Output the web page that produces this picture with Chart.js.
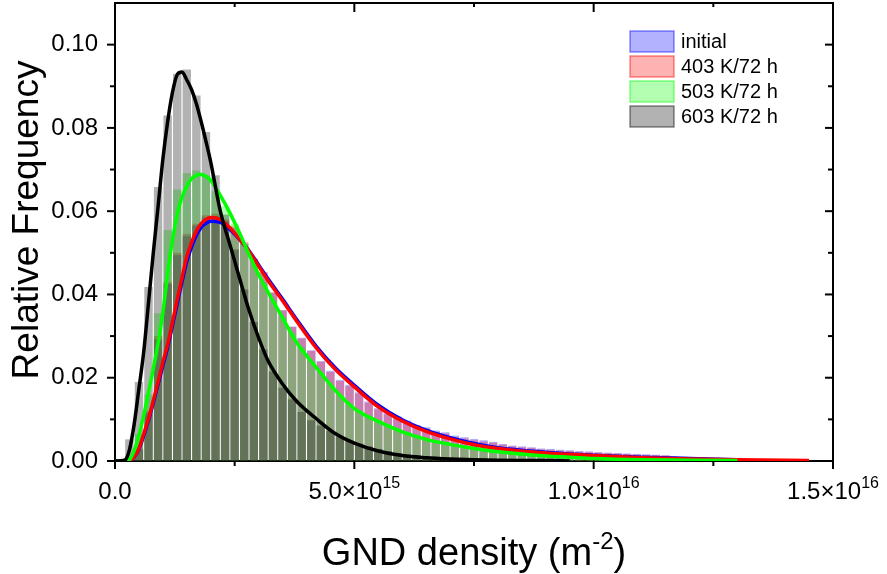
<!DOCTYPE html>
<html>
<head>
<meta charset="utf-8">
<script src="https://cdn.jsdelivr.net/npm/chart.js@4.4.1/dist/chart.umd.min.js"></script>
<style>
  html, body { margin: 0; padding: 0; background: #fff; }
  #wrap { width: 887px; height: 574px; }
</style>
</head>
<body>
<div id="wrap"><canvas id="gnd-chart"></canvas></div>
<script>
// Series names (legend order)
const seriesNames = ['initial', '403 K/72 h', '503 K/72 h', '603 K/72 h'];

// Histogram bin centres, in units of 1e15 m^-2 (bin width 2e14)
const binCenters = [
  0.1, 0.3, 0.5, 0.7, 0.9, 1.1, 1.3, 1.5, 1.7, 1.9,
  2.1, 2.3, 2.5, 2.7, 2.9, 3.1, 3.3, 3.5, 3.7, 3.9,
  4.1, 4.3, 4.5, 4.7, 4.9, 5.1, 5.3, 5.5, 5.7, 5.9,
  6.1, 6.3, 6.5, 6.7, 6.9, 7.1, 7.3, 7.5, 7.7, 7.9,
  8.1, 8.3, 8.5, 8.7, 8.9, 9.1, 9.3, 9.5, 9.7, 9.9,
  10.1, 10.3, 10.5, 10.7, 10.9, 11.1, 11.3, 11.5, 11.7, 11.9,
  12.1, 12.3, 12.5, 12.7, 12.9, 13.1, 13.3, 13.5, 13.7, 13.9,
  14.1, 14.3, 14.5, 14.7, 14.9,
];

// Relative frequency per bin
const initialHist = [
  0, 0.0003, 0.0028, 0.0115, 0.0292, 0.0425, 0.0495, 0.054, 0.0565, 0.0585,
  0.0588, 0.0575, 0.056, 0.0522, 0.0484, 0.0452, 0.0404, 0.0362, 0.0323, 0.0296,
  0.0266, 0.024, 0.0217, 0.0195, 0.0183, 0.0165, 0.0143, 0.0127, 0.0115, 0.0107,
  0.0097, 0.0086, 0.0081, 0.0073, 0.0069, 0.0061, 0.0057, 0.0053, 0.005, 0.0046,
  0.0041, 0.0037, 0.0035, 0.0033, 0.003, 0.0029, 0.0027, 0.0026, 0.0024, 0.0023,
  0.0021, 0.002, 0.0019, 0.0018, 0.0017, 0.0016, 0.0015, 0.0014, 0.0011, 0.001,
  0.0009, 0.0008, 0.0007, 0.0006, 0.0005, 0.0004, 0.0003, 0.0003, 0.0002, 0.0002,
  0.0001, 0.0001, 0, 0, 0,
];
const hist403 = [
  0, 0.0003, 0.003, 0.012, 0.03, 0.043, 0.05, 0.0546, 0.057, 0.059,
  0.0594, 0.058, 0.0565, 0.0526, 0.0486, 0.0454, 0.0405, 0.0362, 0.0322, 0.0294,
  0.0264, 0.0238, 0.0214, 0.0192, 0.018, 0.0162, 0.014, 0.0124, 0.0112, 0.0104,
  0.0094, 0.0083, 0.0078, 0.007, 0.0066, 0.0058, 0.0054, 0.005, 0.0047, 0.0044,
  0.0039, 0.0035, 0.0033, 0.0031, 0.0028, 0.0027, 0.0025, 0.0024, 0.0022, 0.0021,
  0.002, 0.0019, 0.0018, 0.0017, 0.0016, 0.0015, 0.0014, 0.0013, 0.001, 0.0009,
  0.0008, 0.0007, 0.0006, 0.0005, 0.0004, 0.0003, 0.0003, 0.0002, 0.0002, 0.0001,
  0.0001, 0.0001, 0, 0, 0,
];
const hist503 = [
  0, 0.0008, 0.0065, 0.016, 0.0355, 0.0555, 0.0652, 0.0692, 0.0698, 0.0686,
  0.0648, 0.0612, 0.057, 0.0522, 0.0474, 0.0428, 0.0386, 0.0346, 0.0307, 0.0272,
  0.024, 0.021, 0.0182, 0.0158, 0.0137, 0.0122, 0.0109, 0.0097, 0.0087, 0.0078,
  0.007, 0.0063, 0.0056, 0.005, 0.0045, 0.004, 0.0036, 0.0032, 0.0028, 0.0025,
  0.0022, 0.002, 0.0018, 0.0016, 0.0014, 0.0013, 0.0012, 0.0011, 0.001, 0.0009,
  0.0008, 0.0007, 0.0006, 0.0006, 0.0005, 0.0004, 0.0004, 0.0003, 0.0003, 0.0002,
  0.0002, 0.0002, 0.0001, 0.0001, 0.0001, 0, 0, 0, 0, 0,
  0, 0, 0, 0, 0,
];
const hist603 = [
  0, 0.0052, 0.019, 0.0418, 0.0658, 0.083, 0.093, 0.094, 0.0878, 0.079,
  0.0686, 0.0592, 0.0508, 0.0412, 0.0334, 0.0268, 0.0215, 0.0176, 0.0148, 0.0118,
  0.0098, 0.0085, 0.0072, 0.0058, 0.0049, 0.0042, 0.0035, 0.0029, 0.0024, 0.0019,
  0.0016, 0.0013, 0.0011, 0.0009, 0.0007, 0.0006, 0.0005, 0.0004, 0.0003, 0.0003,
  0.0002, 0.0002, 0.0002, 0.0001, 0.0001, 0.0001, 0, 0, 0, 0,
  0, 0, 0, 0, 0, 0, 0, 0, 0, 0,
  0, 0, 0, 0, 0, 0, 0, 0, 0, 0,
  0, 0, 0, 0, 0,
];

// Fitted distribution curves, sampled at fitX (units of 1e15 m^-2)
const fitX = [
  0, 0.2, 0.3, 0.4, 0.5, 0.6, 0.7, 0.8, 0.9, 1.0,
  1.1, 1.2, 1.3, 1.4, 1.5, 1.6, 1.7, 1.8, 1.9, 2.0,
  2.2, 2.4, 2.6, 2.8, 3.0, 3.2,
  3.5, 3.8, 4.2, 4.6, 5.0,
  5.5, 6.0, 6.5, 7.0, 7.5, 8.0,
  9.0, 9.5, 10, 11, 12, 13, 14.5,
];
const initialFit = [
  0, 0, 0, 0.0009, 0.0028, 0.0061, 0.0098, 0.014, 0.0184, 0.0229,
  0.0273, 0.0325, 0.0378, 0.043, 0.0479, 0.0514, 0.0542, 0.0561, 0.0571, 0.0576,
  0.0573, 0.0556, 0.0532, 0.0505, 0.0471, 0.0437,
  0.0389, 0.0339, 0.0276, 0.0224, 0.0182,
  0.0134, 0.0099, 0.0074, 0.0056, 0.0042, 0.0032,
  0.0021, 0.0017, 0.0014, 0.0009, 0.0006, 0.0003, null,
];
const fit403 = [
  0, 0, 0, 0.001, 0.003, 0.0065, 0.0102, 0.0145, 0.019, 0.0237,
  0.028, 0.0333, 0.0388, 0.044, 0.049, 0.0525, 0.0552, 0.057, 0.058, 0.0585,
  0.058, 0.056, 0.0533, 0.0504, 0.0468, 0.0433,
  0.0385, 0.0335, 0.0272, 0.022, 0.0178,
  0.013, 0.0096, 0.0071, 0.0053, 0.0039, 0.003,
  0.0019, 0.0016, 0.0013, 0.0008, 0.0005, 0.0003, 0.0001,
];
const fit503 = [
  0, 0, 0.0003, 0.0025, 0.0062, 0.011, 0.0165, 0.0222, 0.0283, 0.0356,
  0.045, 0.053, 0.0593, 0.0634, 0.066, 0.0678, 0.0686, 0.0688, 0.0684, 0.0674,
  0.0638, 0.0596, 0.0548, 0.0496, 0.0448, 0.0405,
  0.0344, 0.0284, 0.0225, 0.017, 0.0126,
  0.0095, 0.007, 0.0052, 0.004, 0.003, 0.0022,
  0.0012, 0.0009, 0.0006, 0.0003, 0.0002, 0.0001, null,
];
const fit603 = [
  0, 0.0002, 0.0026, 0.0088, 0.0174, 0.0262, 0.038, 0.05, 0.0611, 0.0725,
  0.0815, 0.0885, 0.0928, 0.0934, 0.0915, 0.0892, 0.0858, 0.0815, 0.0768, 0.0718,
  0.06, 0.052, 0.044, 0.0362, 0.0296, 0.024,
  0.0185, 0.0143, 0.0102, 0.0066, 0.0043,
  0.0024, 0.0013, 0.0008, 0.0005, 0.0003, 0.0002,
  0.0001, 0, null, null, null, null, null,
];

// Axis ticks
const xMajorTicks = [0, 5, 10, 15];
const xMinorTicks = [2.5, 7.5, 12.5];
const yMajorTicks = [0, 0.02, 0.04, 0.06, 0.08, 0.1];
const yMinorTicks = [0.01, 0.03, 0.05, 0.07, 0.09];

const FONT = 'Arial, "Liberation Sans", Helvetica, sans-serif';
const barColors = ['rgba(0, 0, 255, 0.3)', 'rgba(255, 0, 0, 0.3)', 'rgba(0, 255, 0, 0.3)', 'rgba(0, 0, 0, 0.3)'];
const swatchBorders = ['rgba(0, 0, 255, 0.45)', 'rgba(255, 0, 0, 0.45)', 'rgba(0, 255, 0, 0.45)', 'rgba(0, 0, 0, 0.45)'];
const lineColors = ['#0000ff', '#ff0000', '#00ff00', '#000000'];

function toPoints(xs, ys) {
  return xs.map((x, i) => ({ x: x, y: ys[i] }));
}

const hists = [initialHist, hist403, hist503, hist603];
const fits = [initialFit, fit403, fit503, fit603];

const datasets = [];
// bars: initial drawn first, 603 K last (higher order = drawn earlier)
hists.forEach((h, i) => {
  datasets.push({
    type: 'bar',
    label: seriesNames[i],
    data: toPoints(binCenters, h),
    backgroundColor: barColors[i],
    borderWidth: 0,
    grouped: false,
    barPercentage: 0.88,
    categoryPercentage: 1,
    order: 13 - i,
  });
});
// fit lines on top, black topmost
fits.forEach((f, i) => {
  datasets.push({
    type: 'line',
    label: seriesNames[i] + ' fit',
    data: toPoints(fitX, f),
    borderColor: lineColors[i],
    borderWidth: 3.5,
    pointRadius: 0,
    fill: false,
    spanGaps: false,
    cubicInterpolationMode: 'monotone',
    order: 4 - i,
  });
});

// x tick text: mantissa ×10 with superscript exponent
function xTickParts(v) {
  if (v === 0) return { base: '0.0', sup: '' };
  const real = v * 1e15;
  const exp = Math.floor(Math.log10(real));
  const mant = real / Math.pow(10, exp);
  return { base: mant.toFixed(1) + '\u00d710', sup: String(exp) };
}

function drawWithSup(ctx, parts, cx, baseY, baseSize, supSize, supRaise) {
  ctx.font = baseSize + 'px ' + FONT;
  const wb = ctx.measureText(parts.base).width;
  const wa = parts.after ? ctx.measureText(parts.after).width : 0;
  ctx.font = supSize + 'px ' + FONT;
  const ws = parts.sup ? ctx.measureText(parts.sup).width : 0;
  let x = cx - (wb + ws + wa) / 2;
  ctx.textAlign = 'left';
  ctx.textBaseline = 'alphabetic';
  ctx.font = baseSize + 'px ' + FONT;
  ctx.fillText(parts.base, x, baseY);
  x += wb;
  if (parts.sup) {
    ctx.font = supSize + 'px ' + FONT;
    ctx.fillText(parts.sup, x, baseY - supRaise);
    x += ws;
  }
  if (parts.after) {
    ctx.font = baseSize + 'px ' + FONT;
    ctx.fillText(parts.after, x, baseY);
  }
}

const framePlugin = {
  id: 'frame',
  beforeDatasetsDraw(chart) {
    const ctx = chart.ctx;
    const a = chart.chartArea;
    const xs = chart.scales.x;
    const ys = chart.scales.y;
    ctx.save();
    ctx.strokeStyle = '#000';
    ctx.lineWidth = 2;
    ctx.strokeRect(a.left, a.top, a.right - a.left, a.bottom - a.top);
    const seg = (x1, y1, x2, y2) => {
      ctx.beginPath();
      ctx.moveTo(x1, y1);
      ctx.lineTo(x2, y2);
      ctx.stroke();
    };
    xMajorTicks.forEach((v) => {
      const p = xs.getPixelForValue(v);
      seg(p, a.bottom, p, a.bottom + 8);
      seg(p, a.top, p, a.top + 9);
    });
    xMinorTicks.forEach((v) => {
      const p = xs.getPixelForValue(v);
      seg(p, a.bottom, p, a.bottom + 5);
      seg(p, a.top, p, a.top + 4);
    });
    yMajorTicks.forEach((v) => {
      const p = ys.getPixelForValue(v);
      seg(a.left - 8, p, a.left, p);
      seg(a.right - 8, p, a.right, p);
    });
    yMinorTicks.forEach((v) => {
      const p = ys.getPixelForValue(v);
      seg(a.left - 5, p, a.left, p);
      seg(a.right - 5, p, a.right, p);
    });
    ctx.restore();
  },
  afterDraw(chart) {
    const ctx = chart.ctx;
    const a = chart.chartArea;
    const xs = chart.scales.x;
    ctx.save();
    ctx.fillStyle = '#000';

    // x tick labels
    xMajorTicks.forEach((v) => {
      drawWithSup(ctx, xTickParts(v), xs.getPixelForValue(v), 499, 24, 16, 11);
    });

    // x title
    drawWithSup(ctx, { base: 'GND density (m', sup: '-2', after: ')' },
      (a.left + a.right) / 2, 565, 38, 24, 16);

    // y title
    ctx.save();
    ctx.translate(38, 220);
    ctx.rotate(-Math.PI / 2);
    ctx.font = '37px ' + FONT;
    ctx.textAlign = 'center';
    ctx.textBaseline = 'alphabetic';
    ctx.fillText('Relative Frequency', 0, 0);
    ctx.restore();

    // legend
    const lx = 630, ly = 31, rowH = 25, bw = 44, bh = 21;
    seriesNames.forEach((name, i) => {
      const y = ly + i * rowH;
      ctx.fillStyle = '#fff';
      ctx.fillRect(lx, y, bw, bh);
      ctx.fillStyle = barColors[i];
      ctx.fillRect(lx, y, bw, bh);
      ctx.strokeStyle = swatchBorders[i];
      ctx.lineWidth = 1.5;
      ctx.strokeRect(lx, y, bw, bh);
      ctx.fillStyle = '#000';
      ctx.font = '20px ' + FONT;
      ctx.textAlign = 'left';
      ctx.textBaseline = 'middle';
      ctx.fillText(name, lx + 51, y + bh / 2 + 1);
    });
    ctx.restore();
  },
};

const gndCanvas = document.getElementById('gnd-chart');

const gndChart = new Chart(gndCanvas, {
  type: 'bar',
  data: { datasets: datasets },
  options: {
    responsive: true,
    maintainAspectRatio: false,
    animation: false,
    layout: { padding: { top: 3, right: 54, left: 0, bottom: 0 } },
    plugins: {
      legend: { display: false },
      tooltip: { enabled: false },
    },
    scales: {
      x: {
        type: 'linear',
        min: 0,
        max: 15,
        offset: false,
        grid: { display: false, drawTicks: false, offset: false },
        border: { display: false },
        ticks: { display: false },
        afterFit: (s) => {
          s.height = 113;
          s.paddingLeft = 0;
          s.paddingRight = 0;
        },
      },
      y: {
        type: 'linear',
        min: 0,
        max: 0.11,
        grid: { display: false, drawTicks: false },
        border: { display: false },
        ticks: {
          stepSize: 0.02,
          includeBounds: false,
          padding: 17,
          color: '#000',
          font: { family: FONT, size: 24 },
          callback: (v) => v.toFixed(2),
        },
        afterFit: (s) => {
          s.width = 115;
          s.paddingTop = 0;
          s.paddingBottom = 0;
        },
      },
    },
  },
  plugins: [framePlugin],
});
</script>
</body>
</html>
